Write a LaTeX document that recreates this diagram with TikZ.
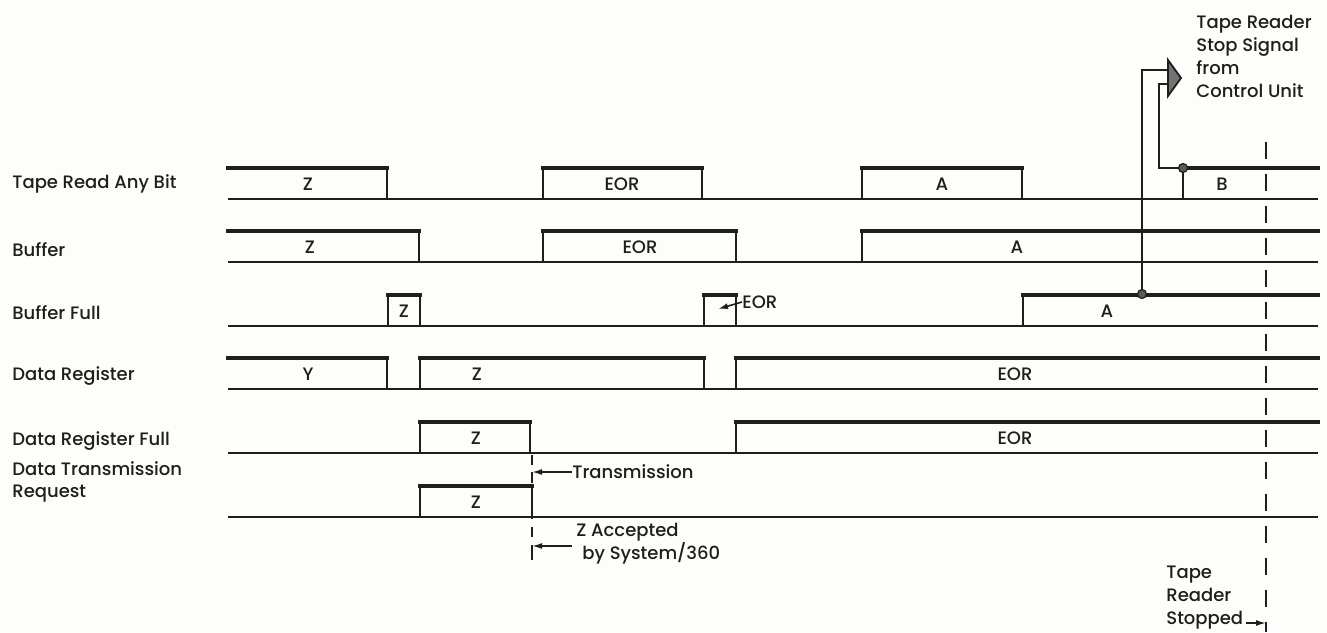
\documentclass[tikz,border=0pt]{standalone}
\usepackage{fontspec}
\setmainfont{Poppins}[UprightFont=* Medium]
\usepackage{tikz}
\usetikzlibrary{arrows.meta,positioning,calc}
\definecolor{paper}{HTML}{FDFDF9}
\definecolor{ink}{HTML}{1E1E1E}
\tikzset{
  tm/base/.style={line width=0.8pt, ink},
  tm/high/.style={line width=1.6pt, ink, line cap=rect},
  tm/edge/.style={line width=0.9pt, ink},
  tm/sig/.style={font=\fontsize{9}{11}\selectfont, text=ink, inner sep=0pt, anchor=west, align=left},
  tm/val/.style={font=\fontsize{9}{11}\selectfont, text=ink, inner sep=0pt},
  tm/note/.style={font=\fontsize{9}{11.5}\selectfont, text=ink, inner sep=0pt, align=left},
  tm/dashline/.style={line width=0.8pt, ink, dash pattern=on 8.5pt off 7.5pt},
  tm/shortdash/.style={line width=0.8pt, ink, dash pattern=on 5pt off 4pt},
  tm/ptr/.style={line width=0.8pt, ink, -{Latex[length=5pt,width=3pt]}},
  tm/dot/.style={circle, draw=ink, fill=black!65, line width=0.6pt, inner sep=0pt, minimum size=4.5pt},
  tm/flag/.style={draw=ink, fill=black!55, line width=0.9pt, line join=miter}
}

\begin{document}
\begin{tikzpicture}[x=0.5pt, y=-0.5pt]
  \fill[paper] (0,0) rectangle (1327,632);
  \useasboundingbox (0,0) rectangle (1327,632);

  % signal names
  \node[tm/sig] (trab) at (12,184) {Tape Read Any Bit};
  \node[tm/sig] (buf) at (12,250) {Buffer};
  \node[tm/sig] (buff) at (12,313) {Buffer Full};
  \node[tm/sig] (dreg) at (12,376) {Data Register};
  \node[tm/sig] (dregf) at (12,441) {Data Register Full};
  \node[tm/sig] (dtr) at (12,482) {Data Transmission\\Request};

  % base lines
  \foreach \b in {199,262,326,389,453,517}
    \draw[tm/base] (228,\b) -- (1318,\b);

  % pulses rise/fall/base
  \foreach \u/\d/\b in {543/702/199, 862/1022/199, 543/736/262, 388/420/326,
                        704/736/326, 420/704/389, 420/530/453, 420/532/517}
  {
    \draw[tm/edge] (\u,\b) -- (\u,\b-31) (\d,\b-31) -- (\d,\b);
    \draw[tm/high] (\u,\b-31) -- (\d,\b-31);
  }
  % already up at the left
  \foreach \d/\b in {387/199, 419/262, 387/389}
  {
    \draw[tm/edge] (\d,\b-31) -- (\d,\b);
    \draw[tm/high] (228,\b-31) -- (\d,\b-31);
  }
  % still up at the right
  \foreach \u/\b in {1183/199, 862/262, 1023/326, 736/389, 736/453}
  {
    \draw[tm/edge] (\u,\b) -- (\u,\b-31);
    \draw[tm/high] (\u,\b-31) -- (1318,\b-31);
  }

  % pulse values
  \node[tm/val] (z1) at (308,184) {Z};
  \node[tm/val] (eor1) at (622,184) {EOR};
  \node[tm/val] (a1) at (942,184) {A};
  \node[tm/val] (b1) at (1222,184) {B};
  \node[tm/val] (z2) at (310,247) {Z};
  \node[tm/val] (eor2) at (640,247) {EOR};
  \node[tm/val] (a2) at (1017,247) {A};
  \node[tm/val] (z3) at (404,311) {Z};
  \node[tm/val, anchor=west] (eor3) at (742,302) {EOR};
  \node[tm/val] (a3) at (1107,311) {A};
  \node[tm/val] (y4) at (308,374) {Y};
  \node[tm/val] (z4) at (477,374) {Z};
  \node[tm/val] (eor4) at (1015,374) {EOR};
  \node[tm/val] (z5) at (476,438) {Z};
  \node[tm/val] (eor5) at (1015,438) {EOR};
  \node[tm/val] (z6) at (476,502) {Z};

  \coordinate (eor3tip) at (718,309);
  \draw[tm/ptr] (eor3.west) -- (eor3tip);

  % transmission and acceptance
  \draw[tm/shortdash] (532,455) -- (532,562);
  \node[tm/val, anchor=west] (trans) at (572,472) {Transmission};
  \coordinate (transtip) at (532,472);
  \draw[tm/ptr] (trans.west) -- (transtip);
  \draw[tm/edge] (transtip) -- ++(0,9);
  \node[tm/note, anchor=west] (zacc) at (576,544) {Z Accepted\\\hspace*{3pt}by System/360};
  \coordinate (zacctip) at (532,546);
  \draw[tm/ptr] (zacctip -| zacc.west) ++(-4,0) -- (zacctip);
  \draw[tm/edge] (zacctip) -- ++(0,14);

  % stop signal
  \node[tm/dot] (dotA) at (1142,294) {};
  \node[tm/dot] (dotB) at (1183,168) {};
  \coordinate (ctl) at (1168,78);
  \draw[tm/edge] (dotA) |- (1168,70);
  \draw[tm/edge] (dotB) -| (1159,84) -- (1168,84);
  \draw[tm/flag] (ctl) ++(0,-18) -- ++(13,18) -- ++(-13,18) -- cycle;
  \node[tm/note, anchor=north west] (stopnote) at (1196,15) {Tape Reader\\Stop Signal\\from\\Control Unit};

  % reader stopped
  \draw[tm/dashline] (1266,142) -- (1266,632);
  \node[tm/note, anchor=south west] (stopped) at (1166,630) {Tape\\Reader\\Stopped};
  \coordinate (stoptip) at (1266,623);
  \draw[tm/ptr] (stoptip -| stopped.east) ++(2,0) -- (stoptip);
  \draw[tm/edge] (stoptip) -- (1266,632);
\end{tikzpicture}
\end{document}
